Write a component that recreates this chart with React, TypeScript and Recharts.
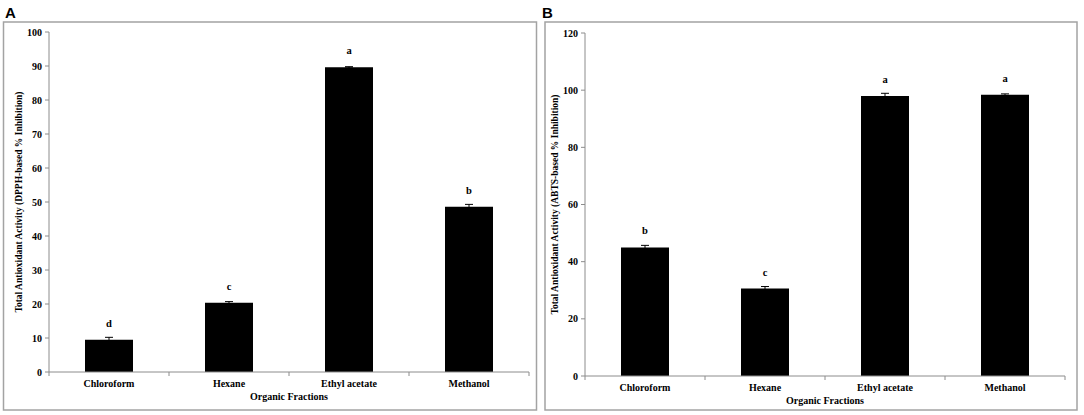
import React from 'react';
import { BarChart, Bar, XAxis, YAxis, ErrorBar, LabelList } from 'recharts';

const categories = ['Chloroform', 'Hexane', 'Ethyl acetate', 'Methanol'];
const dpphValues = [9.5, 20.4, 89.6, 48.6];
const dpphErrors = [0.7, 0.3, 0.2, 0.7];
const dpphLetters = ['d', 'c', 'a', 'b'];
const abtsValues = [45.0, 30.6, 98.0, 98.4];
const abtsErrors = [0.7, 0.7, 0.9, 0.3];
const abtsLetters = ['b', 'c', 'a', 'a'];
const dpphTicks = [0, 10, 20, 30, 40, 50, 60, 70, 80, 90, 100];
const abtsTicks = [0, 20, 40, 60, 80, 100, 120];
const edgeTicks = [0, 0.5, 1, 1.5, 2, 2.5, 3, 3.5, 4];

const SERIF = '"Liberation Serif", "Times New Roman", serif';
const SANS = '"Liberation Sans", Arial, sans-serif';
const AXIS_GRAY = '#8c8c8c';

const build = (values: number[], errors: number[], letters: string[]) =>
  categories.map((name, i) => ({
    pos: i + 0.5,
    name,
    value: values[i],
    err: errors[i],
    letter: letters[i],
  }));

const dpphData = build(dpphValues, dpphErrors, dpphLetters);
const abtsData = build(abtsValues, abtsErrors, abtsLetters);

const XTick = (props: any) => {
  const { x, y, payload } = props;
  const v = Number(payload.value);
  if (Number.isInteger(v)) {
    return <line x1={x} x2={x} y1={y} y2={y + 4} stroke={AXIS_GRAY} strokeWidth={1} />;
  }
  const label = categories[Math.floor(v)];
  return (
    <text x={x} y={y + 14.5} textAnchor="middle" fontFamily={SERIF} fontSize={10} fontWeight="bold" fill="#000">
      {label}
    </text>
  );
};

const yTitle = (text: string, dx: number) => (props: any) => {
  const vb = props.viewBox || { x: 0, y: 0, width: 0, height: 0 };
  const cx = vb.x + dx;
  const cy = vb.y + vb.height / 2;
  return (
    <text
      x={cx}
      y={cy}
      transform={`rotate(-90 ${cx} ${cy})`}
      textAnchor="middle"
      dominantBaseline="central"
      fontFamily={SERIF}
      fontSize={9.5}
      fontWeight="bold"
      fill="#000"
    >
      {text}
    </text>
  );
};

const xTitle = (text: string, dy: number) => (props: any) => {
  const vb = props.viewBox || { x: 0, y: 0, width: 0, height: 0 };
  const cx = vb.x + vb.width / 2;
  const cy = vb.y + dy;
  return (
    <text x={cx} y={cy} textAnchor="middle" dominantBaseline="central" fontFamily={SERIF} fontSize={10} fontWeight="bold" fill="#000">
      {text}
    </text>
  );
};

const tickStyle = { fill: '#000', fontSize: 10, fontFamily: SERIF, fontWeight: 'bold' } as any;

type PanelProps = {
  data: any[];
  ticks: number[];
  max: number;
  width: number;
  yWidth: number;
  right: number;
  top: number;
  xHeight: number;
  yLabel: string;
  yLabelDx: number;
};

const Panel = ({ data, ticks, max, width, yWidth, right, top, xHeight, yLabel, yLabelDx }: PanelProps) => (
  <BarChart width={width} height={415} data={data} margin={{ top, right, bottom: 0, left: 0 }}>
    <XAxis
      type="number"
      dataKey="pos"
      domain={[0, 4]}
      ticks={edgeTicks}
      interval={0}
      allowDecimals
      tickSize={0}
      tickMargin={0}
      tickLine={false}
      axisLine={{ stroke: AXIS_GRAY, strokeWidth: 1 }}
      tick={<XTick />}
      height={xHeight}
      label={{ content: xTitle('Organic Fractions', 24) } as any}
    />
    <YAxis
      type="number"
      domain={[0, max]}
      ticks={ticks}
      interval={0}
      width={yWidth}
      tickSize={4}
      tickMargin={3}
      axisLine={{ stroke: AXIS_GRAY, strokeWidth: 1 }}
      tickLine={{ stroke: AXIS_GRAY, strokeWidth: 1 }}
      tick={tickStyle}
      label={{ content: yTitle(yLabel, yLabelDx) } as any}
    />
    <Bar dataKey="value" fill="#000" barSize={48} isAnimationActive={false}>
      <ErrorBar dataKey="err" width={4} stroke="#000" strokeWidth={1} direction="y" />
      <LabelList
        dataKey="letter"
        position="top"
        offset={13}
        fill="#000"
        fontFamily={SERIF}
        fontSize={10.5}
        fontWeight="bold"
      />
    </Bar>
  </BarChart>
);

export default function App() {
  return (
    <div style={{ position: 'absolute', left: 0, top: 0, width: 1084, height: 415, background: '#fff', overflow: 'hidden' }}>
      <svg width={1084} height={415} style={{ position: 'absolute', left: 0, top: 0 }}>
        <rect x={3.5} y={22} width={533} height={388} fill="none" stroke="#a3a3a3" strokeWidth={1.5} />
        <rect x={545} y={22} width={532} height={388} fill="none" stroke="#a3a3a3" strokeWidth={1.5} />
        <text x={5} y={18} fontFamily={SANS} fontSize={15} fontWeight="bold" fill="#000">A</text>
        <text x={542} y={18} fontFamily={SANS} fontSize={15} fontWeight="bold" fill="#000">B</text>
      </svg>
      <div style={{ position: 'absolute', left: 0, top: 0 }}>
        <Panel
          data={dpphData}
          ticks={dpphTicks}
          max={100}
          width={540}
          yWidth={49}
          right={11}
          top={32}
          xHeight={43}
          yLabel="Total Antioxidant Activity (DPPH-based % Inhibition)"
          yLabelDx={19}
        />
      </div>
      <div style={{ position: 'absolute', left: 540, top: 0 }}>
        <Panel
          data={abtsData}
          ticks={abtsTicks}
          max={120}
          width={544}
          yWidth={45}
          right={19}
          top={33}
          xHeight={39}
          yLabel="Total Antioxidant Activity (ABTS-based % Inhibition)"
          yLabelDx={15}
        />
      </div>
    </div>
  );
}
